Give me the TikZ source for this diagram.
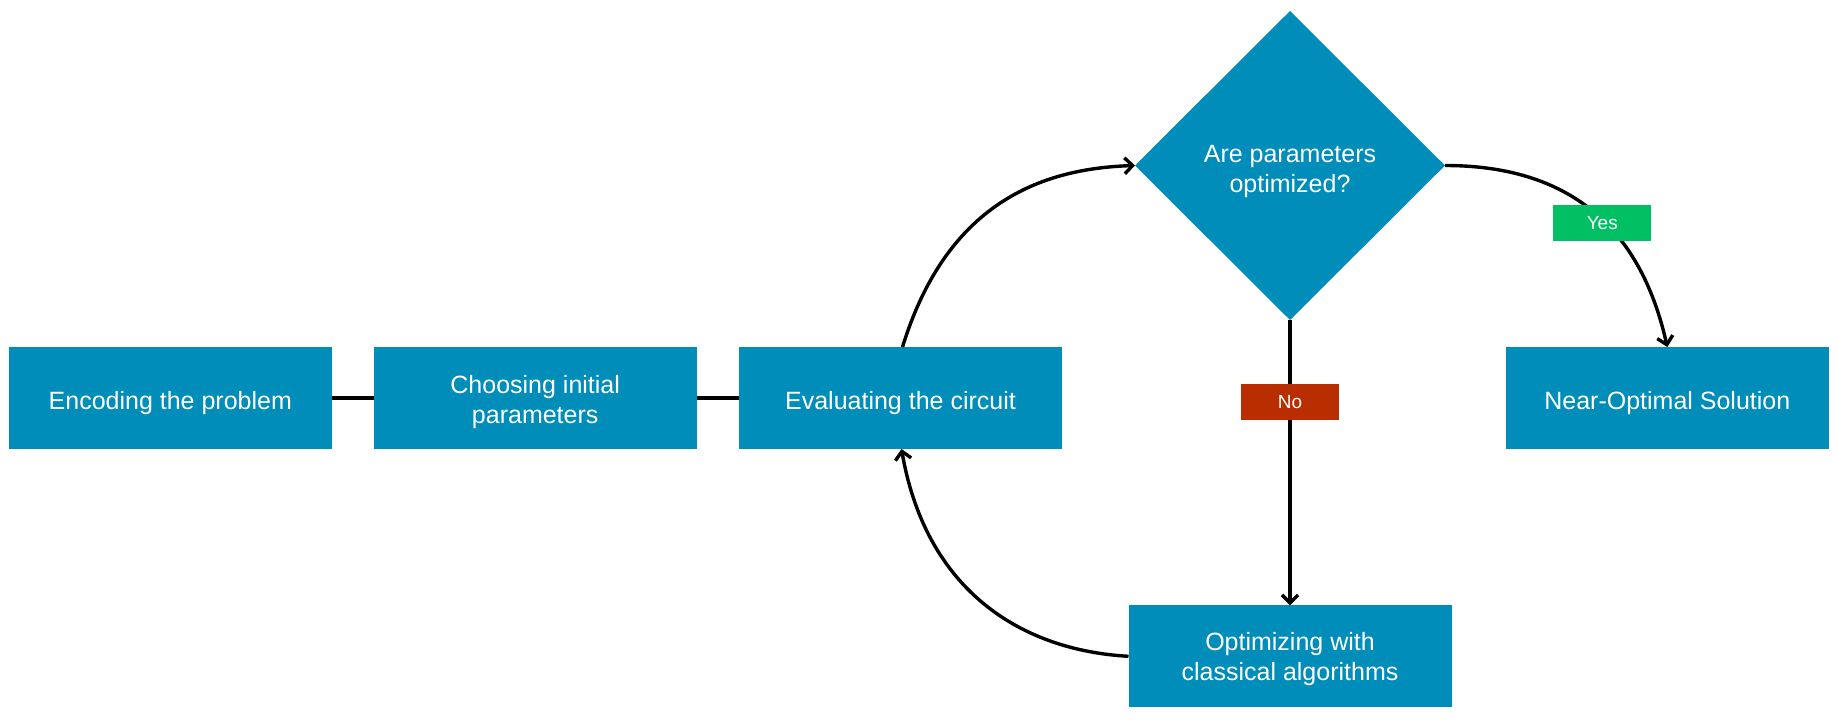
\documentclass[tikz,border=0pt]{standalone}
\usepackage{fontspec}
\setmainfont{Liberation Sans}
\usetikzlibrary{shapes.geometric,arrows.meta}
\definecolor{boxblue}{RGB}{0,141,186}
\definecolor{yesgreen}{RGB}{0,192,99}
\definecolor{nored}{RGB}{184,46,0}
\newcommand{\upstrut}[1]{\rule{0pt}{#1}}
\tikzset{
  procbox/.style={rectangle, fill=boxblue, text=white, minimum width=323pt, minimum height=102pt,
    inner sep=0pt, outer sep=0pt, align=center, font=\fontsize{25}{30}\selectfont},
  decbox/.style={diamond, fill=boxblue, text=white, minimum width=310pt, minimum height=309pt,
    inner sep=0pt, outer sep=0pt, align=center, font=\fontsize{25}{30}\selectfont},
  tagbox/.style={rectangle, text=white, minimum width=98pt, minimum height=36pt, inner sep=0pt,
    font=\fontsize{19}{22}\selectfont},
  conn/.style={line width=3.4pt, black},
  arr/.style={conn, -{Straight Barb[length=8pt,width=16pt]}}
}
\begin{document}
\begin{tikzpicture}[x=1pt,y=-1pt]
\useasboundingbox (0,0) rectangle (1838,720);
\node[procbox] (enc) at (170.3,398) {\upstrut{27.3pt}Encoding the problem};
\node[procbox] (cho) at (535.2,398) {\upstrut{25.5pt}Choosing initial\\parameters};
\node[procbox] (eval) at (900.5,398) {\upstrut{27.3pt}Evaluating the circuit};
\node[decbox] (dec) at (1290,165.5) {\upstrut{28.5pt}Are parameters\\optimized?};
\node[procbox] (near) at (1667.3,398) {\upstrut{27.3pt}Near-Optimal Solution};
\node[procbox] (opt) at (1290,656.3) {\upstrut{24.5pt}Optimizing with\\classical algorithms};
\draw[conn] (enc.east) -- (cho.west);
\draw[conn] (cho.east) -- (eval.west);
\draw[arr] ([xshift=2pt]eval.north) .. controls +(44,-143) and +(-95,3) .. (dec.west);
\draw[arr] (dec.east) .. controls +(145,0) and +(-22,-97) .. (near.north)
  node[tagbox, fill=yesgreen, pos=0.5, yshift=-3pt] (yes) {Yes};
\draw[arr] (dec.south) -- (opt.north)
  node[tagbox, fill=nored, pos=0.288] (no) {No};
\draw[arr] (opt.west) .. controls +(-108,-6) and +(24.5,141) .. ([xshift=1pt]eval.south);
\end{tikzpicture}
\end{document}
